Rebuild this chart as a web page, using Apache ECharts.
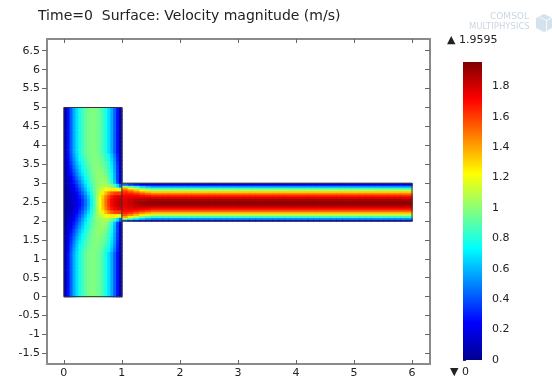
<!DOCTYPE html>
<html>
<head>
<meta charset="utf-8">
<script src="https://cdn.jsdelivr.net/npm/echarts@6/dist/echarts.min.js"></script>
<style>
  html, body { margin: 0; padding: 0; background: #fff; }
  #chart { width: 552px; height: 381px; }
</style>
</head>
<body>
<div id="chart"></div>
<script>
// tick labels
const xTicks = [0, 1, 2, 3, 4, 5, 6];
const yTicks = [-1.5, -1, -0.5, 0, 0.5, 1, 1.5, 2, 2.5, 3, 3.5, 4, 4.5, 5, 5.5, 6, 6.5];
const barTicks = [0, 0.2, 0.4, 0.6, 0.8, 1, 1.2, 1.4, 1.6, 1.8];
const velMax = 1.9595;
const velMin = 0;

// vertical channel (x 0..1, y 0..5): speed across the channel, 20 cells of 0.05
const farProfile = [0.09, 0.27, 0.43, 0.57, 0.68, 0.78, 0.86, 0.92, 0.96, 0.98,
                    0.98, 0.96, 0.92, 0.86, 0.78, 0.68, 0.57, 0.43, 0.27, 0.09];
// rows near the junction, y = 2.55, 2.65 ... 3.75 (mirrored below y = 2.5)
const junctionRows = [
  [0.03, 0.06, 0.10, 0.14, 0.19, 0.26, 0.35, 0.46, 0.58, 0.72, 0.88, 1.04, 1.20, 1.35, 1.50, 1.62, 1.72, 1.78, 1.82, 1.84],
  [0.03, 0.06, 0.10, 0.15, 0.21, 0.29, 0.38, 0.49, 0.61, 0.74, 0.89, 1.04, 1.19, 1.33, 1.47, 1.59, 1.68, 1.74, 1.77, 1.78],
  [0.03, 0.07, 0.12, 0.18, 0.25, 0.34, 0.44, 0.55, 0.67, 0.79, 0.91, 1.03, 1.14, 1.25, 1.36, 1.46, 1.54, 1.59, 1.61, 1.60],
  [0.04, 0.08, 0.14, 0.21, 0.29, 0.39, 0.50, 0.61, 0.72, 0.83, 0.93, 1.02, 1.09, 1.15, 1.20, 1.24, 1.26, 1.25, 1.20, 1.10],
  [0.04, 0.10, 0.17, 0.25, 0.34, 0.45, 0.56, 0.67, 0.77, 0.86, 0.94, 1.00, 1.04, 1.06, 1.06, 1.03, 0.97, 0.86, 0.68, 0.45],
  [0.05, 0.12, 0.20, 0.29, 0.39, 0.50, 0.61, 0.71, 0.80, 0.88, 0.95, 1.00, 1.03, 1.04, 1.01, 0.94, 0.81, 0.62, 0.38, 0.14],
  [0.05, 0.14, 0.23, 0.33, 0.44, 0.55, 0.65, 0.75, 0.83, 0.90, 0.96, 1.00, 1.02, 1.02, 0.98, 0.90, 0.77, 0.59, 0.37, 0.13],
  [0.06, 0.16, 0.27, 0.38, 0.49, 0.60, 0.70, 0.79, 0.86, 0.92, 0.97, 1.00, 1.01, 0.99, 0.95, 0.87, 0.75, 0.58, 0.37, 0.13],
  [0.06, 0.18, 0.30, 0.42, 0.53, 0.64, 0.73, 0.81, 0.88, 0.94, 0.98, 1.00, 1.00, 0.97, 0.92, 0.84, 0.72, 0.56, 0.36, 0.13],
  [0.07, 0.20, 0.33, 0.46, 0.57, 0.67, 0.76, 0.84, 0.90, 0.95, 0.98, 0.99, 0.98, 0.95, 0.90, 0.82, 0.70, 0.55, 0.35, 0.12],
  [0.07, 0.22, 0.36, 0.49, 0.61, 0.71, 0.79, 0.86, 0.92, 0.96, 0.98, 0.98, 0.97, 0.93, 0.88, 0.80, 0.68, 0.53, 0.33, 0.12],
  [0.08, 0.24, 0.39, 0.52, 0.64, 0.74, 0.82, 0.88, 0.93, 0.97, 0.98, 0.97, 0.95, 0.91, 0.85, 0.77, 0.65, 0.51, 0.31, 0.11],
  [0.08, 0.25, 0.41, 0.55, 0.66, 0.76, 0.84, 0.90, 0.95, 0.97, 0.98, 0.97, 0.94, 0.89, 0.82, 0.74, 0.62, 0.48, 0.30, 0.10]
];

// horizontal channel (x 1..6, y 2..3): half profile from wall y=2 to centre, cells of 0.05
const outletProfile = [0.19, 0.53, 0.84, 1.10, 1.33, 1.52, 1.67, 1.79, 1.88, 1.93];
// entrance columns x = 1.05, 1.15 ... 1.45
const entranceProfiles = [
  [0.45, 1.05, 1.40, 1.55, 1.63, 1.68, 1.72, 1.75, 1.77, 1.78],
  [0.35, 0.90, 1.25, 1.46, 1.59, 1.68, 1.74, 1.78, 1.81, 1.82],
  [0.28, 0.76, 1.10, 1.35, 1.52, 1.65, 1.74, 1.81, 1.85, 1.87],
  [0.23, 0.65, 0.98, 1.24, 1.44, 1.60, 1.72, 1.81, 1.87, 1.90],
  [0.21, 0.58, 0.90, 1.16, 1.38, 1.56, 1.70, 1.81, 1.88, 1.92]
];

// domain outline
const outline = [[0, 0], [0, 5], [1, 5], [1, 3], [6, 3], [6, 2], [1, 2], [1, 0], [0, 0], null, [1, 2], [1, 3]];

// build cells [x0, y0, x1, y1, value]
const cells = [];
for (let i = 0; i < farProfile.length; i++) {
  for (let j = 0; j < 50; j++) {
    const y0 = j * 0.1;
    const d = Math.abs(y0 + 0.05 - 2.5);
    const k = Math.round((d - 0.05) / 0.1);
    const v = k < junctionRows.length ? junctionRows[k][i] : farProfile[i];
    cells.push([i * 0.05, y0, (i + 1) * 0.05, y0 + 0.1, v]);
  }
}
for (let c = 0; c < 50; c++) {
  for (let r = 0; r < 20; r++) {
    const h = r < 10 ? r : 19 - r;
    const v = c < entranceProfiles.length ? entranceProfiles[c][h] : outletProfile[h];
    cells.push([1 + c * 0.1, 2 + r * 0.05, 1 + (c + 1) * 0.1, 2 + (r + 1) * 0.05, v]);
  }
}

const jet = ['#00008f', '#0000ff', '#0080ff', '#00ffff', '#80ff80', '#ffff00', '#ff8000', '#ff0000', '#800000'];
const font = 'DejaVu Sans';
const textColor = '#222';
const frameColor = '#8a8a8a';
const logoColor = '#c9d6e2';

function renderCell(params, api) {
  const a = api.coord([api.value(0), api.value(3)]);
  const b = api.coord([api.value(2), api.value(1)]);
  return {
    type: 'rect',
    shape: { x: a[0], y: a[1], width: b[0] - a[0] + 0.7, height: b[1] - a[1] + 0.7 },
    style: { fill: api.visual('color') }
  };
}

const myChart = echarts.init(document.getElementById('chart'));

const option = {
  backgroundColor: '#fff',
  animation: false,
  title: {
    text: 'Time=0  Surface: Velocity magnitude (m/s)',
    left: 33,
    top: 4,
    textStyle: { fontFamily: font, fontSize: 14, fontWeight: 'normal', color: textColor }
  },
  grid: [
    { left: 47, right: 122, top: 39, bottom: 17, outerBoundsMode: 'none' },
    { left: 463, width: 19, top: 62, height: 298, outerBoundsMode: 'none' }
  ],
  xAxis: [
    {
      type: 'value', gridIndex: 0, min: -0.29, max: 6.31, position: 'bottom',
      axisLine: { onZero: false, lineStyle: { color: frameColor, width: 2 } },
      axisTick: { customValues: xTicks, inside: true, length: 4, lineStyle: { color: '#666' } },
      axisLabel: { customValues: xTicks, margin: 4, fontFamily: font, fontSize: 11, color: textColor },
      splitLine: { show: false }
    },
    {
      type: 'value', gridIndex: 0, min: -0.29, max: 6.31, position: 'top',
      axisLine: { onZero: false, lineStyle: { color: frameColor, width: 2 } },
      axisTick: { customValues: xTicks, inside: true, length: 4, lineStyle: { color: '#666' } },
      axisLabel: { show: false },
      splitLine: { show: false }
    },
    { type: 'value', gridIndex: 1, min: 0, max: 1, show: false }
  ],
  yAxis: [
    {
      type: 'value', gridIndex: 0, min: -1.78, max: 6.81, position: 'left',
      axisLine: { onZero: false, lineStyle: { color: frameColor, width: 2 } },
      axisTick: { customValues: yTicks, inside: false, length: 5, lineStyle: { color: '#666' } },
      axisLabel: { customValues: yTicks, margin: 7, fontFamily: font, fontSize: 11, color: textColor },
      splitLine: { show: false }
    },
    {
      type: 'value', gridIndex: 0, min: -1.78, max: 6.81, position: 'right',
      axisLine: { onZero: false, lineStyle: { color: frameColor, width: 2 } },
      axisTick: { customValues: yTicks, inside: true, length: 5, lineStyle: { color: '#666' } },
      axisLabel: { show: false },
      splitLine: { show: false }
    },
    {
      type: 'value', gridIndex: 1, min: velMin, max: velMax, position: 'right',
      axisLine: { show: false },
      axisTick: { customValues: barTicks, inside: false, length: 3, lineStyle: { color: '#333' } },
      axisLabel: { customValues: barTicks, margin: 10, fontFamily: font, fontSize: 11, color: textColor },
      splitLine: { show: false }
    }
  ],
  visualMap: {
    type: 'continuous',
    show: false,
    min: velMin,
    max: velMax,
    seriesIndex: 0,
    dimension: 4,
    inRange: { color: jet }
  },
  graphic: [
    // colour bar
    {
      type: 'rect', left: 463, top: 62, z: 10,
      shape: { width: 19, height: 298 },
      style: {
        fill: new echarts.graphic.LinearGradient(0, 1, 0, 0,
          jet.map((c, i) => ({ offset: i / (jet.length - 1), color: c })))
      }
    },
    { type: 'text', left: 447, top: 35, style: { text: '▲ 1.9595', font: '11px "DejaVu Sans"', fill: textColor } },
    { type: 'text', left: 450, top: 367, style: { text: '▼ 0', font: '11px "DejaVu Sans"', fill: textColor } },
    // faint logo
    { type: 'text', left: 490, top: 12, style: { text: 'COMSOL', font: '9px "DejaVu Sans"', fill: logoColor } },
    { type: 'text', left: 469, top: 22, style: { text: 'MULTIPHYSICS', font: '8.5px "DejaVu Sans"', fill: logoColor } },
    {
      type: 'polygon', left: 536, top: 14,
      shape: { points: [[8, 0], [16, 4], [16, 14], [8, 18], [0, 14], [0, 4]] },
      style: { fill: '#d4e2ee' }
    },
    {
      type: 'polyline', left: 536, top: 14,
      shape: { points: [[0, 4], [8, 8], [16, 4], [8, 8], [8, 18]] },
      style: { stroke: '#f4f8fb', lineWidth: 1, fill: null }
    }
  ],
  series: [
    {
      type: 'custom',
      xAxisIndex: 0,
      yAxisIndex: 0,
      renderItem: renderCell,
      encode: { x: [0, 2], y: [1, 3] },
      data: cells,
      silent: true
    },
    {
      type: 'line',
      xAxisIndex: 0,
      yAxisIndex: 0,
      data: outline,
      symbol: 'none',
      connectNulls: false,
      lineStyle: { color: '#333', width: 1 },
      silent: true
    }
  ]
};

myChart.setOption(option);
</script>
</body>
</html>
